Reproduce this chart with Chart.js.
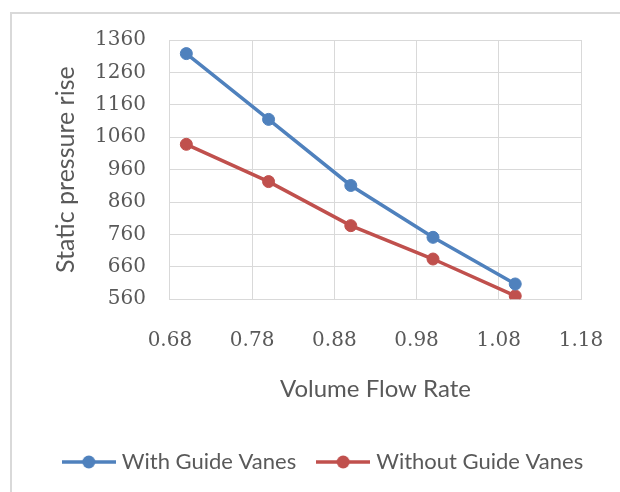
<!DOCTYPE html>
<html>
<head>
<meta charset="utf-8">
<script src="https://cdn.jsdelivr.net/npm/chart.js@4.4.1/dist/chart.umd.min.js"></script>
<style>
  html, body { margin: 0; padding: 0; background: #fff; overflow: hidden; }
  #wrap { position: relative; width: 620px; height: 492px; overflow: hidden; }
  #frame { position: absolute; left: 10px; top: 12px; width: 700px; height: 600px; border: 2px solid #D9D9D9; box-sizing: border-box; }
  #c { position: absolute; left: 0; top: 0; }
</style>
</head>
<body>
<div id="wrap">
  <div id="frame"></div>
  <canvas id="c" width="620" height="492"></canvas>
</div>
<script>
// ---- data ----
const flowRate = [0.70, 0.80, 0.90, 1.00, 1.10];
const withGuideVanes = [1318, 1115, 911, 751, 607];
const withoutGuideVanes = [1038, 923, 787, 684, 570];
const xTicks = [0.68, 0.78, 0.88, 0.98, 1.08, 1.18];
const yTicks = [560, 660, 760, 860, 960, 1060, 1160, 1260, 1360];
const seriesNames = ['With Guide Vanes', 'Without Guide Vanes'];
const xTitle = 'Volume Flow Rate';
const yTitle = 'Static pressure rise';

const BLUE = '#4F81BD';
const RED = '#C0504D';
const TEXT = '#595959';
const GRID = '#D9D9D9';

function legendIcon(color) {
  const cv = document.createElement('canvas');
  cv.width = 54; cv.height = 16;
  const g = cv.getContext('2d');
  g.strokeStyle = color; g.lineWidth = 3.5;
  g.beginPath(); g.moveTo(0, 8); g.lineTo(54, 8); g.stroke();
  g.fillStyle = color;
  g.beginPath(); g.arc(27, 8, 6.5, 0, Math.PI * 2); g.fill();
  return cv;
}
const icons = [legendIcon(BLUE), legendIcon(RED)];

const toPts = (xs, ys) => xs.map((x, i) => ({ x: x, y: ys[i] }));

function ds(label, data, color) {
  return { label: label, data: data, borderColor: color, backgroundColor: color,
    borderWidth: 3.5, pointRadius: 6, pointBorderWidth: 1,
    pointBackgroundColor: color, pointBorderColor: color, tension: 0 };
}

new Chart(document.getElementById('c'), {
  type: 'line',
  data: {
    datasets: [
      ds(seriesNames[0], toPts(flowRate, withGuideVanes), BLUE),
      ds(seriesNames[1], toPts(flowRate, withoutGuideVanes), RED)
    ]
  },
  options: {
    responsive: false,
    animation: false,
    devicePixelRatio: 1,
    layout: { padding: { left: 40, right: 10, top: 40, bottom: 9 } },
    plugins: {
      tooltip: { enabled: false },
      legend: {
        position: 'bottom',
        labels: {
          usePointStyle: true,
          pointStyleWidth: 44,
          padding: 25,
          color: TEXT,
          font: { family: 'Lato', size: 22 },
          generateLabels: (chart) => chart.data.datasets.map((d, i) => ({
            text: d.label, fillStyle: d.borderColor, strokeStyle: d.borderColor,
            pointStyle: icons[i], lineWidth: 0, hidden: false, datasetIndex: i, fontColor: TEXT
          }))
        }
      }
    },
    scales: {
      x: {
        type: 'linear',
        min: xTicks[0], max: xTicks[xTicks.length - 1],
        afterBuildTicks: (s) => { s.ticks = xTicks.map(v => ({ value: v })); },
        afterFit: (s) => { s.paddingRight = 39; },
        grid: { color: GRID, lineWidth: 1, drawTicks: false },
        border: { color: GRID, width: 1 },
        ticks: { padding: 30, color: TEXT, autoSkip: false, maxRotation: 0,
                 font: { family: 'DejaVu Serif', size: 20 },
                 callback: (v) => Number(v).toFixed(2) },
        title: { display: true, text: xTitle, color: TEXT, font: { family: 'Lato', size: 24 },
                 padding: { top: -8, bottom: 22 } }
      },
      y: {
        type: 'linear',
        min: yTicks[0], max: yTicks[yTicks.length - 1],
        afterBuildTicks: (s) => { s.ticks = yTicks.map(v => ({ value: v })); },
        grid: { color: GRID, lineWidth: 1, drawTicks: false },
        border: { color: GRID, width: 1 },
        ticks: { padding: 24, color: TEXT, autoSkip: false,
                 font: { family: 'DejaVu Serif', size: 20 },
                 callback: (v) => String(v) },
        title: { display: true, text: yTitle, color: TEXT, font: { family: 'Lato', size: 25 },
                 padding: { top: 11, bottom: -10 } }
      }
    }
  }
});
</script>
</body>
</html>
